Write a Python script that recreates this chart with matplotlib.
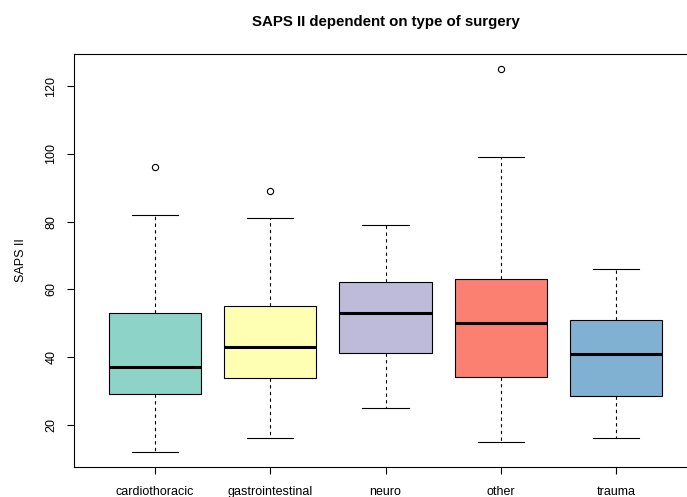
import matplotlib
matplotlib.use("Agg")
import matplotlib.pyplot as plt

plt.rcParams['font.family'] = ['Liberation Sans', 'DejaVu Sans']

# five-number summaries per surgery type
surgery = ['cardiothoracic', 'gastrointestinal', 'neuro', 'other', 'trauma']
whisker_low = [12, 16, 25, 15, 16]
q1 = [29, 33.7, 41.2, 34, 28.6]
median = [37, 43, 53, 50, 41]
q3 = [53, 55, 62, 63, 51]
whisker_high = [82, 81, 79, 99, 66]
outliers = [[96], [89], [], [125], []]
colors = ['#8DD3C7', '#FFFFB3', '#BEBADA', '#FB8072', '#80B1D3']

stats = []
for i, name in enumerate(surgery):
    stats.append({'label': name, 'whislo': whisker_low[i], 'q1': q1[i], 'med': median[i],
                  'q3': q3[i], 'whishi': whisker_high[i], 'fliers': outliers[i]})

fig = plt.figure(figsize=(6.87, 4.97), dpi=100)
W, H = 687, 497
ax = fig.add_axes([74 / W, (H - 467) / H, (697 - 74) / W, (467 - 54) / H])

parts = ax.bxp(stats, positions=range(1, 6), widths=0.8, patch_artist=True,
               boxprops=dict(linewidth=0.8, edgecolor='black'),
               medianprops=dict(color='black', linewidth=2.2),
               whiskerprops=dict(color='black', linewidth=0.8, linestyle=(0, (3, 3))),
               capprops=dict(color='black', linewidth=0.8),
               capwidths=0.4,
               flierprops=dict(marker='o', markersize=4.5, markerfacecolor='none',
                               markeredgecolor='black', markeredgewidth=0.8))
for box, c in zip(parts['boxes'], colors):
    box.set_facecolor(c)

ax.set_xlim(0.3, 5.7)
ax.set_ylim(7.48, 129.52)
ax.set_yticks([20, 40, 60, 80, 100, 120])
ax.set_yticklabels(['20', '40', '60', '80', '100', '120'], rotation=90, va='center')
ax.set_xticks(range(1, 6))
ax.set_xticklabels(surgery)
ax.tick_params(axis='both', direction='out', length=5, width=0.8, labelsize=9)
ax.tick_params(axis='x', pad=9)
ax.tick_params(axis='y', pad=7)
for s in ax.spines.values():
    s.set_linewidth(0.8)

ax.set_ylabel('SAPS II', fontsize=9, labelpad=13)
ax.set_title('SAPS II dependent on type of surgery', fontsize=10.8, fontweight='bold', pad=20)

fig.savefig('out.png', dpi=100)
